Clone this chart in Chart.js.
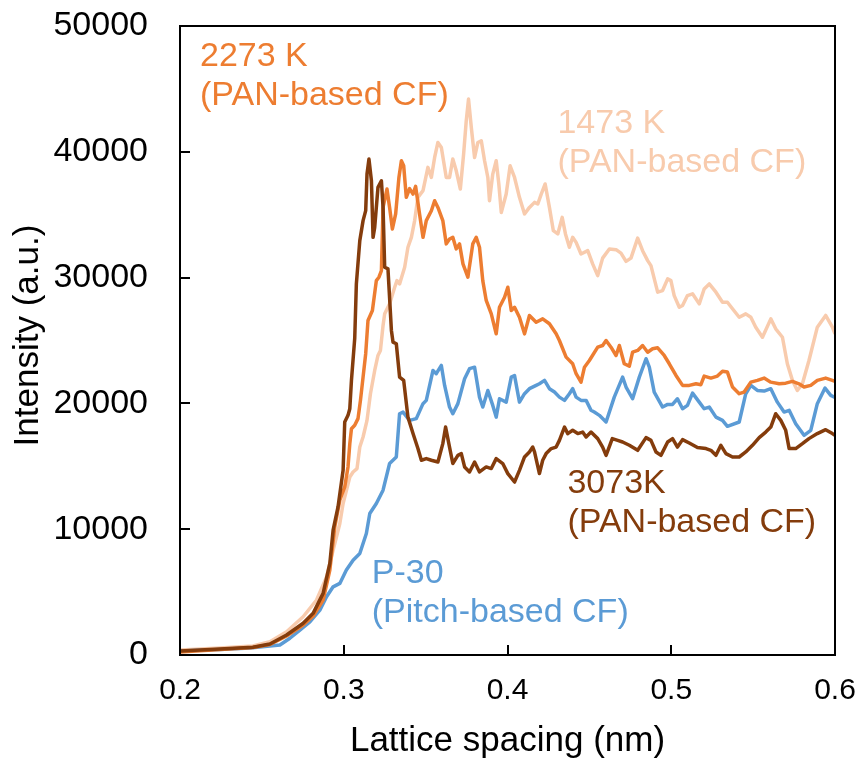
<!DOCTYPE html>
<html>
<head>
<meta charset="utf-8">
<script src="https://cdn.jsdelivr.net/npm/chart.js@4.4.1/dist/chart.umd.min.js"></script>
<style>
  body { margin: 0; background: #fff; }
  #wrap { width: 861px; height: 765px; position: relative; }
</style>
</head>
<body>
<div id="wrap"><canvas id="latticeChart"></canvas></div>
<script>
// Axis ticks
const xTicks = [0.2, 0.3, 0.4, 0.5, 0.6];
const xTickLabels = ["0.2", "0.3", "0.4", "0.5", "0.6"];
const yTicks = [0, 10000, 20000, 30000, 40000, 50000];
const yTickLabels = ["0", "10000", "20000", "30000", "40000", "50000"];

// P-30 (Pitch-based CF)
const p30X = [0.200, 0.2244, 0.2427, 0.2610, 0.2671, 0.2732, 0.2793, 0.2854, 0.2895, 0.2935, 0.2976, 0.3016, 0.3057, 0.3098, 0.3138, 0.3159, 0.3199, 0.3240, 0.3280, 0.3321, 0.3341, 0.3362, 0.3402, 0.3443, 0.3484, 0.3504, 0.3545, 0.3565, 0.3596, 0.3616, 0.3646, 0.3666, 0.3697, 0.3738, 0.3768, 0.3799, 0.3829, 0.3849, 0.3880, 0.3910, 0.3931, 0.3951, 0.3992, 0.4023, 0.4043, 0.4073, 0.4104, 0.4134, 0.4175, 0.4195, 0.4226, 0.4256, 0.4287, 0.4317, 0.4348, 0.4378, 0.4398, 0.4419, 0.4449, 0.4480, 0.4510, 0.4530, 0.4561, 0.4602, 0.4652, 0.4703, 0.4724, 0.4764, 0.4805, 0.4846, 0.4866, 0.4896, 0.4947, 0.4978, 0.5008, 0.5038, 0.5069, 0.5099, 0.5130, 0.5171, 0.5201, 0.5232, 0.5273, 0.5313, 0.5343, 0.5415, 0.5455, 0.5486, 0.5526, 0.5567, 0.5608, 0.5648, 0.5689, 0.5720, 0.5760, 0.5811, 0.5852, 0.5892, 0.5939, 0.5974, 0.6000];
const p30Y = [320, 440, 560, 790, 1330, 1980, 2640, 3570, 4630, 5420, 5690, 6750, 7540, 8070, 9660, 11250, 12040, 13100, 15220, 15740, 19180, 19310, 18650, 18790, 19980, 20240, 22620, 22360, 23020, 21430, 19710, 19180, 19980, 21960, 22760, 22880, 20500, 19710, 21030, 19840, 18910, 20370, 20100, 22090, 22220, 20100, 20770, 21170, 21430, 21560, 21830, 21170, 20900, 20500, 20240, 20770, 21170, 20500, 20240, 20240, 19450, 19310, 19050, 18520, 20500, 22090, 21300, 20370, 22090, 23550, 22880, 20900, 19710, 19920, 19920, 20370, 19580, 19840, 20820, 20100, 19580, 19710, 18910, 18650, 18180, 18520, 20770, 21430, 21030, 20980, 21170, 20100, 19310, 19450, 18390, 17460, 17860, 19980, 21220, 20640, 20480];

// 3073K (PAN-based CF)
const k3073X = [0.200, 0.2244, 0.2445, 0.2549, 0.2651, 0.2752, 0.2813, 0.2874, 0.2915, 0.2935, 0.2965, 0.2996, 0.3006, 0.3026, 0.3037, 0.3047, 0.3067, 0.3077, 0.3098, 0.3118, 0.3134, 0.3142, 0.3154, 0.3169, 0.3179, 0.3189, 0.3209, 0.3230, 0.3240, 0.3250, 0.3270, 0.3291, 0.3301, 0.3321, 0.3341, 0.3366, 0.3392, 0.3423, 0.3453, 0.3474, 0.3504, 0.3535, 0.3575, 0.3605, 0.3622, 0.3646, 0.3666, 0.3697, 0.3718, 0.3738, 0.3768, 0.3799, 0.3829, 0.3870, 0.3901, 0.3931, 0.3971, 0.4002, 0.4043, 0.4073, 0.4104, 0.4134, 0.4154, 0.4165, 0.4195, 0.4215, 0.4236, 0.4267, 0.4297, 0.4317, 0.4348, 0.4368, 0.4398, 0.4429, 0.4459, 0.4480, 0.4510, 0.4551, 0.4581, 0.4602, 0.4640, 0.4673, 0.4703, 0.4744, 0.4795, 0.4846, 0.4876, 0.4907, 0.4937, 0.4978, 0.5008, 0.5038, 0.5069, 0.5110, 0.5160, 0.5212, 0.5242, 0.5273, 0.5303, 0.5334, 0.5374, 0.5415, 0.5455, 0.5496, 0.5537, 0.5577, 0.5608, 0.5638, 0.5669, 0.5699, 0.5720, 0.5760, 0.5801, 0.5841, 0.5892, 0.5943, 0.5984, 0.6000];
const k3073Y = [320, 480, 610, 870, 1590, 2520, 3310, 4900, 7280, 9920, 11770, 14680, 18520, 19050, 19580, 21830, 25160, 29500, 32940, 34530, 35320, 38230, 39420, 37700, 33200, 33990, 37170, 37700, 35580, 30820, 30690, 25800, 24870, 24740, 22090, 21830, 18910, 17600, 16410, 15480, 15610, 15480, 15340, 16800, 18120, 16530, 15220, 15870, 16010, 14950, 14550, 15340, 14550, 14950, 14820, 15610, 15220, 14420, 13750, 14680, 15740, 16140, 16530, 16140, 14420, 15480, 16010, 16410, 16530, 17060, 18120, 17600, 17860, 17600, 17720, 17330, 17720, 17200, 16530, 15870, 17200, 17060, 16930, 16670, 16270, 17280, 17060, 16140, 15870, 16930, 17200, 16530, 17120, 16850, 16490, 16410, 16270, 15870, 16670, 16010, 15740, 15740, 16140, 16670, 17280, 17720, 18120, 19180, 18650, 17860, 16410, 16410, 16800, 17200, 17600, 17910, 17600, 17460];

// 2273 K (PAN-based CF)
const k2273X = [0.200, 0.2244, 0.2445, 0.2549, 0.2651, 0.2752, 0.2813, 0.2874, 0.2915, 0.2945, 0.2976, 0.3006, 0.3026, 0.3037, 0.3047, 0.3067, 0.3087, 0.3102, 0.3118, 0.3134, 0.3148, 0.3175, 0.3199, 0.3215, 0.3230, 0.3240, 0.3264, 0.3280, 0.3297, 0.3317, 0.3337, 0.3352, 0.3366, 0.3382, 0.3402, 0.3423, 0.3439, 0.3463, 0.3484, 0.3504, 0.3535, 0.3555, 0.3575, 0.3605, 0.3626, 0.3646, 0.3666, 0.3687, 0.3707, 0.3728, 0.3758, 0.3788, 0.3809, 0.3829, 0.3849, 0.3870, 0.3901, 0.3931, 0.3951, 0.3982, 0.4002, 0.4023, 0.4043, 0.4073, 0.4104, 0.4134, 0.4175, 0.4215, 0.4256, 0.4297, 0.4317, 0.4358, 0.4398, 0.4419, 0.4449, 0.4470, 0.4500, 0.4551, 0.4581, 0.4602, 0.4632, 0.4663, 0.4683, 0.4713, 0.4744, 0.4764, 0.4795, 0.4825, 0.4856, 0.4886, 0.4917, 0.4957, 0.4988, 0.5029, 0.5069, 0.5110, 0.5151, 0.5181, 0.5201, 0.5242, 0.5282, 0.5313, 0.5343, 0.5374, 0.5415, 0.5445, 0.5486, 0.5526, 0.5567, 0.5608, 0.5659, 0.5699, 0.5740, 0.5780, 0.5811, 0.5852, 0.5892, 0.5943, 0.5984, 0.6000];
const k2273Y = [240, 440, 600, 830, 1510, 2380, 3100, 4370, 6750, 10180, 12300, 13360, 14950, 16800, 17990, 18260, 18790, 20240, 22090, 23950, 26590, 27380, 29760, 30030, 30560, 35580, 37040, 35580, 33870, 35060, 37960, 39290, 38890, 36380, 37070, 36640, 37250, 35060, 33200, 34530, 35320, 36110, 35580, 34530, 32680, 33070, 33200, 32280, 32680, 31090, 30030, 32680, 33200, 32410, 29760, 28180, 27120, 25530, 27640, 28440, 29230, 27380, 27640, 26850, 25530, 26990, 26450, 26720, 26330, 25530, 25000, 23680, 23150, 22360, 21690, 22880, 23410, 24470, 24600, 25000, 24470, 23810, 24600, 23150, 22960, 24070, 24210, 24600, 24070, 24340, 24420, 23810, 23150, 22220, 21430, 21430, 21560, 21490, 22170, 22010, 22170, 22560, 22490, 21300, 20770, 20900, 21690, 21830, 22010, 21690, 21560, 21610, 21750, 21560, 21300, 21430, 21830, 22010, 21830, 21750];

// 1473 K (PAN-based CF)
const k1473X = [0.200, 0.2244, 0.2445, 0.2549, 0.2651, 0.2752, 0.2834, 0.2895, 0.2935, 0.2976, 0.2996, 0.3037, 0.3057, 0.3081, 0.3098, 0.3118, 0.3142, 0.3163, 0.3189, 0.3209, 0.3224, 0.3240, 0.3250, 0.3280, 0.3311, 0.3325, 0.3341, 0.3372, 0.3392, 0.3413, 0.3433, 0.3453, 0.3484, 0.3514, 0.3535, 0.3555, 0.3575, 0.3596, 0.3626, 0.3646, 0.3666, 0.3687, 0.3712, 0.3732, 0.3748, 0.3762, 0.3779, 0.3799, 0.3819, 0.3840, 0.3860, 0.3880, 0.3890, 0.3910, 0.3931, 0.3947, 0.3962, 0.3992, 0.4016, 0.4043, 0.4073, 0.4104, 0.4134, 0.4165, 0.4185, 0.4206, 0.4230, 0.4256, 0.4280, 0.4307, 0.4334, 0.4354, 0.4378, 0.4398, 0.4419, 0.4449, 0.4490, 0.4520, 0.4551, 0.4581, 0.4622, 0.4663, 0.4693, 0.4724, 0.4754, 0.4795, 0.4825, 0.4856, 0.4876, 0.4917, 0.4947, 0.4978, 0.4998, 0.5018, 0.5049, 0.5069, 0.5099, 0.5130, 0.5171, 0.5201, 0.5232, 0.5273, 0.5313, 0.5343, 0.5374, 0.5415, 0.5455, 0.5486, 0.5516, 0.5557, 0.5608, 0.5638, 0.5679, 0.5709, 0.5740, 0.5770, 0.5801, 0.5841, 0.5892, 0.5943, 0.5984, 0.6000];
const k1473Y = [400, 560, 710, 1060, 1850, 3040, 4370, 6210, 8330, 10450, 12040, 14150, 14550, 14820, 16530, 17330, 18650, 20770, 22620, 23810, 24210, 26190, 27120, 27910, 29230, 29760, 29500, 30820, 32410, 33200, 34530, 36380, 36910, 38760, 37960, 39550, 40740, 40340, 37960, 37960, 39420, 38490, 37040, 39820, 42460, 44190, 41930, 39550, 40740, 40880, 39290, 37960, 36110, 38230, 39290, 37440, 35180, 36640, 38890, 37960, 36380, 35060, 35580, 35980, 35850, 36640, 37440, 35580, 33730, 33470, 34790, 33470, 32410, 33200, 32800, 31880, 32140, 31090, 30160, 31550, 32280, 32220, 31950, 31290, 31550, 33140, 32140, 31350, 30950, 28840, 28970, 29900, 29760, 28570, 27640, 27780, 28570, 28710, 27910, 29100, 29500, 28840, 28040, 28040, 27520, 26850, 27120, 26850, 26060, 25260, 26720, 25930, 25260, 23150, 21830, 21030, 21560, 23410, 26060, 26990, 26060, 25530];

function toPoints(xs, ys) {
  return xs.map((x, i) => ({ x: x, y: ys[i] }));
}

// Series labels drawn inside the plot (anchor in data units, first baseline)
const notes = [
  { lines: ["2273 K", "(PAN-based CF)"], x: 0.2122, y: 46830, color: "#ED7D31" },
  { lines: ["1473 K", "(PAN-based CF)"], x: 0.4305, y: 41510, color: "#F8CBAD" },
  { lines: ["3073K", "(PAN-based CF)"], x: 0.4366, y: 12860, color: "#843C0C" },
  { lines: ["P-30", "(Pitch-based CF)"], x: 0.3171, y: 5710, color: "#5B9BD5" },
];

const FONT = '"Liberation Sans", Arial, sans-serif';

const frameAxes = {
  id: "frameAxes",
  afterDraw(chart) {
    const ctx = chart.ctx;
    const { left, right, top, bottom } = chart.chartArea;
    const sx = chart.scales.x;
    const sy = chart.scales.y;
    ctx.save();
    ctx.strokeStyle = "#000";
    ctx.lineWidth = 2;
    ctx.strokeRect(left, top, right - left, bottom - top);

    // inward tick marks
    ctx.beginPath();
    xTicks.forEach((v) => {
      const px = Math.round(sx.getPixelForValue(v));
      ctx.moveTo(px, bottom);
      ctx.lineTo(px, bottom - 10);
    });
    yTicks.forEach((v) => {
      const py = Math.round(sy.getPixelForValue(v));
      ctx.moveTo(left, py);
      ctx.lineTo(left + 10, py);
    });
    ctx.stroke();

    // tick labels
    ctx.fillStyle = "#000";
    ctx.font = "34px " + FONT;
    ctx.textAlign = "right";
    ctx.textBaseline = "middle";
    yTicks.forEach((v, i) => {
      ctx.fillText(yTickLabels[i], left - 32, sy.getPixelForValue(v));
    });
    ctx.font = "30px " + FONT;
    ctx.textAlign = "center";
    ctx.textBaseline = "middle";
    xTicks.forEach((v, i) => {
      ctx.fillText(xTickLabels[i], sx.getPixelForValue(v), bottom + 36);
    });

    // axis titles
    ctx.font = "35px " + FONT;
    ctx.fillText("Lattice spacing (nm)", (left + right) / 2, bottom + 86);
    ctx.save();
    ctx.translate(28, (top + bottom) / 2 - 5);
    ctx.rotate(-Math.PI / 2);
    ctx.fillText("Intensity (a.u.)", 0, 0);
    ctx.restore();

    // series notes
    ctx.font = "34px " + FONT;
    ctx.textAlign = "left";
    ctx.textBaseline = "alphabetic";
    notes.forEach((n) => {
      ctx.fillStyle = n.color;
      const px = sx.getPixelForValue(n.x);
      const py = sy.getPixelForValue(n.y);
      n.lines.forEach((t, j) => ctx.fillText(t, px, py + j * 39));
    });
    ctx.restore();
  },
};

const ctx = document.getElementById("latticeChart").getContext("2d");
new Chart(ctx, {
  type: "line",
  data: {
    datasets: [
      { label: "3073K (PAN-based CF)", data: toPoints(k3073X, k3073Y), borderColor: "#843C0C" },
      { label: "2273 K (PAN-based CF)", data: toPoints(k2273X, k2273Y), borderColor: "#ED7D31" },
      { label: "P-30 (Pitch-based CF)", data: toPoints(p30X, p30Y), borderColor: "#5B9BD5" },
      { label: "1473 K (PAN-based CF)", data: toPoints(k1473X, k1473Y), borderColor: "#F8CBAD" },
    ],
  },
  options: {
    responsive: true,
    maintainAspectRatio: false,
    animation: false,
    layout: { padding: { left: 180, right: 26, top: 26, bottom: 110 } },
    elements: {
      point: { radius: 0 },
      line: { borderWidth: 3.5, tension: 0, borderJoinStyle: "round" },
    },
    plugins: {
      legend: { display: false },
      tooltip: { enabled: false },
    },
    scales: {
      x: { type: "linear", min: 0.2, max: 0.6, display: false },
      y: { type: "linear", min: 0, max: 50000, display: false },
    },
  },
  plugins: [frameAxes],
});
</script>
</body>
</html>
